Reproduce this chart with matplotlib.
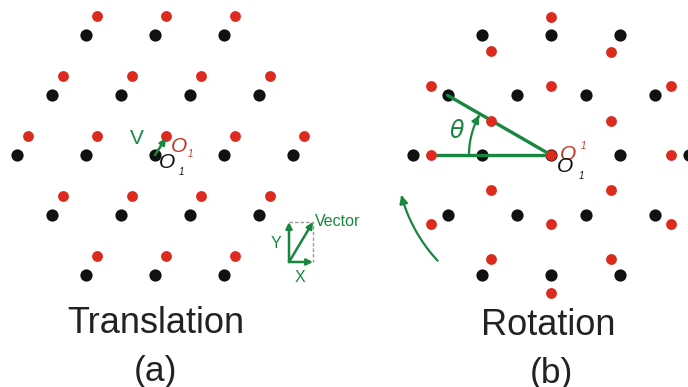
import numpy as np
import matplotlib.pyplot as plt
from matplotlib.patches import FancyArrowPatch
from matplotlib.path import Path

plt.rcParams['font.family'] = ['Liberation Sans', 'DejaVu Sans']

# lattice geometry (sketch pixel units, y grows downwards)
spacing = 69
ring = 2
left_center = (155, 155)
right_center = (551, 155)
shift = (11, -19)          # translation vector V
theta_deg = 30             # rotation angle

# labels
panel_titles = ['Translation', 'Rotation']
panel_tags = ['(a)', '(b)']

black = '#111111'
red = '#dc2a1e'
green = '#17873f'
red_text = '#c0392b'


def hex_lattice(center, a, n):
    pts = []
    for r in range(-n, n + 1):
        for q in range(-n, n + 1):
            if abs(q + r) <= n:
                pts.append((center[0] + a * (q + r / 2), center[1] + a * np.sqrt(3) / 2 * r))
    return np.array(pts)


def rotate(pts, center, deg):
    t = np.radians(deg)
    c, s = np.cos(t), np.sin(t)
    d = pts - np.array(center)
    return np.column_stack([center[0] + c * d[:, 0] - s * d[:, 1],
                            center[1] + s * d[:, 0] + c * d[:, 1]])


def arc(center, radius, a0, a1, n=40):
    ang = np.radians(np.linspace(a0, a1, n))
    return np.column_stack([center[0] + radius * np.cos(ang), center[1] - radius * np.sin(ang)])


def arc_arrow(ax, pts, lw=1.6, head=10):
    codes = [Path.MOVETO] + [Path.LINETO] * (len(pts) - 1)
    ax.add_patch(FancyArrowPatch(path=Path(pts, codes), arrowstyle='-|>',
                                 mutation_scale=head, color=green, lw=lw, zorder=5))


def arrow(ax, p0, p1, lw=1.8, head=9):
    ax.annotate('', xy=p1, xytext=p0,
                arrowprops=dict(arrowstyle='-|>', color=green, lw=lw,
                                mutation_scale=head, shrinkA=0, shrinkB=0), zorder=6)


fig = plt.figure(figsize=(6.88, 3.87), dpi=100)
ax = fig.add_axes([0, 0, 1, 1])
ax.set_xlim(0, 688)
ax.set_ylim(387, 0)
ax.axis('off')

# (a) translation
base_a = hex_lattice(left_center, spacing, ring)
moved = base_a + np.array(shift)
ax.plot(base_a[:, 0], base_a[:, 1], 'o', color=black, ms=8.8, mec='none', zorder=2)
ax.plot(moved[:, 0], moved[:, 1], 'o', color=red, ms=7.8, mec='none', zorder=2)
arrow(ax, left_center, (left_center[0] + shift[0], left_center[1] + shift[1] + 2))
ax.text(137, 139, 'V', color=green, fontsize=15, ha='center', va='center')
ax.text(179, 146, 'O', color=red_text, fontsize=15, style='italic', ha='center', va='center')
ax.text(190, 154, '1', color=red_text, fontsize=7, style='italic', ha='center', va='center')
ax.text(167, 163, 'O', color=black, fontsize=15, style='italic', ha='center', va='center')
ax.text(181, 172, '1', color=black, fontsize=7, style='italic', ha='center', va='center')

# vector decomposition inset
ox, oy, vx, vy = 289, 262, 24, -40
ax.plot([ox, ox + vx, ox + vx], [oy + vy, oy + vy, oy], ls=(0, (2.5, 1.5)), color='#999999', lw=1)
arrow(ax, (ox, oy), (ox, oy + vy), lw=1.8)
arrow(ax, (ox, oy), (ox + vx, oy), lw=1.8)
arrow(ax, (ox, oy), (ox + vx, oy + vy), lw=1.8)
ax.text(315, 222, 'Vector', color=green, fontsize=11.5, ha='left', va='center')
ax.text(276, 243, 'Y', color=green, fontsize=11.5, ha='center', va='center')
ax.text(300, 277, 'X', color=green, fontsize=11.5, ha='center', va='center')

# (b) rotation
base_b = hex_lattice(right_center, spacing, ring)
turned = rotate(base_b, right_center, theta_deg)
ax.plot(base_b[:, 0], base_b[:, 1], 'o', color=black, ms=8.8, mec='none', zorder=2)
ax.plot(turned[:, 0], turned[:, 1], 'o', color=red, ms=7.8, mec='none', zorder=4)
cx, cy = right_center
far = spacing * np.sqrt(3)
ax.plot([cx - far, cx], [cy, cy], color=green, lw=2.4, zorder=3, solid_capstyle='round')
ax.plot([cx - far * np.cos(np.radians(theta_deg)), cx],
        [cy - far * np.sin(np.radians(theta_deg)), cy], color=green, lw=2.4, zorder=3,
        solid_capstyle='round')
arc_arrow(ax, arc(right_center, 82, 180, 151), lw=1.6, head=11)
arc_arrow(ax, arc(right_center, 155, 223, 195), lw=1.6, head=12)
ax.text(457, 131, r'$\theta$', color=green, fontsize=17, ha='center', va='center')
ax.text(568, 154, 'O', color=red_text, fontsize=15, style='italic', ha='center', va='center')
ax.text(583, 146, '1', color=red_text, fontsize=7, style='italic', ha='center', va='center')
ax.text(565, 167, 'O', color=black, fontsize=15, style='italic', ha='center', va='center')
ax.text(581, 176, '1', color=black, fontsize=7, style='italic', ha='center', va='center')

# panel titles
for x, yb, yt, title, tag in zip([156, 548], [333, 335], [372, 373], panel_titles, panel_tags):
    ax.text(x, yb, title, fontsize=26, ha='center', va='baseline', color='#222222')
    ax.text(x + (0 if tag == '(a)' else 3), yt, tag, fontsize=25.5, ha='center', va='center',
            color='#222222')

fig.savefig('out.png', dpi=100)
